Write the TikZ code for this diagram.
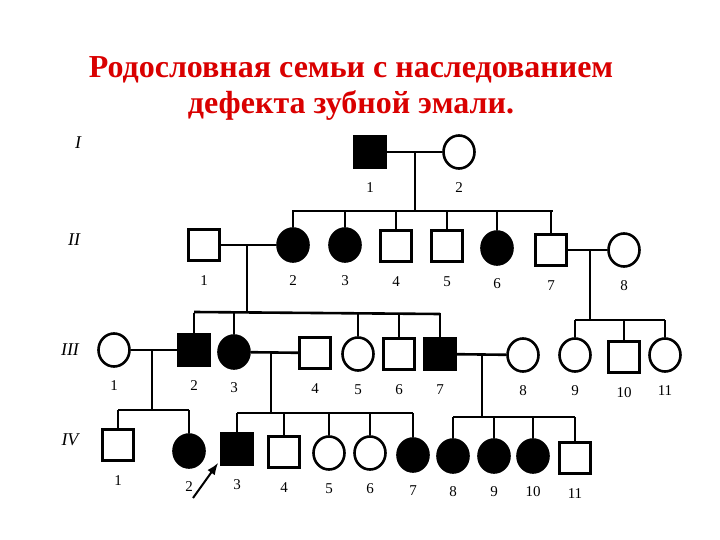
\documentclass[tikz,border=0pt]{standalone}
\usepackage{fontspec}
\setmainfont{Liberation Serif}
\usetikzlibrary{shapes.geometric,arrows.meta}
\begin{document}
\begin{tikzpicture}[x=1pt,y=-1pt,line width=2.6pt,
 sq/.style={draw,line width=2.6pt,rectangle,minimum size=31pt,inner sep=0pt,fill=white,label={[font=\fontsize{15}{15}\selectfont,label distance=9pt]below:#1}},
 sqa/.style={sq=#1,fill=black},
 ci/.style={draw,line width=2.6pt,ellipse,minimum width=31pt,minimum height=33pt,inner sep=0pt,fill=white,label={[font=\fontsize{15}{15}\selectfont,label distance=8pt]below:#1}},
 cia/.style={ci=#1,fill=black},
 gen/.style={font=\itshape\fontsize{18}{18}\selectfont},
 ln/.style={line width=2.6pt}]
\useasboundingbox (0,0) rectangle (720,540);
\node[font=\bfseries\fontsize{32}{36}\selectfont,text=red!85!black,align=center] (title) at (351,88) {Родословная семьи с наследованием\\дефекта зубной эмали.};
\node[gen] (g1) at (78,143) {I};
\node[gen] (g2) at (74,240) {II};
\node[gen] (g3) at (70,350) {III};
\node[gen] (g4) at (70,440) {IV};
% Gen I
\node[sqa=1] (I1) at (370,152) {};
\node[ci=2] (I2) at (459,152) {};
% Gen II
\node[sq=1] (II1) at (204,245) {};
\node[cia=2] (II2) at (293,245) {};
\node[cia=3] (II3) at (345,245) {};
\node[sq=4] (II4) at (396,246) {};
\node[sq=5] (II5) at (447,246) {};
\node[cia=6] (II6) at (497,248) {};
\node[sq=7] (II7) at (551,250) {};
\node[ci=8] (II8) at (624,250) {};
% Gen III
\node[ci=1] (III1) at (114,350) {};
\node[sqa=2] (III2) at (194,350) {};
\node[cia=3] (III3) at (234,352) {};
\node[sq=4] (III4) at (315,353) {};
\node[ci=5] (III5) at (358,354) {};
\node[sq=6] (III6) at (399,354) {};
\node[sqa=7] (III7) at (440,354) {};
\node[ci=8] (III8) at (523,355) {};
\node[ci=9] (III9) at (575,355) {};
\node[sq=10] (III10) at (624,357) {};
\node[ci=11] (III11) at (665,355) {};
% Gen IV
\node[sq=1] (IV1) at (118,445) {};
\node[cia=2] (IV2) at (189,451) {};
\node[sqa=3] (IV3) at (237,449) {};
\node[sq=4] (IV4) at (284,452) {};
\node[ci=5] (IV5) at (329,453) {};
\node[ci=6] (IV6) at (370,453) {};
\node[cia=7] (IV7) at (413,455) {};
\node[cia=8] (IV8) at (453,456) {};
\node[cia=9] (IV9) at (494,456) {};
\node[cia=10] (IV10) at (533,456) {};
\node[sq=11] (IV11) at (575,458) {};
% couples and descent
\coordinate (c1) at (415,152); \coordinate (s1) at (415,211);
\draw[ln] (I1) -- (I2);
\draw[ln] (c1) -- (s1);
\draw[ln] (292,211) -- (553,211);
\foreach \n/\x in {II2/293,II3/345,II4/396,II5/447,II6/497,II7/551} \draw[ln] (\x,211) -- (\n.north);
\coordinate (c2) at (247,245); \coordinate (s2) at (247,312);
\draw[ln] (II1) -- (II2); \draw[ln] (c2) -- (s2);
\draw[ln] (194,312) -- (440,314);
\foreach \n/\x in {III2/194,III3/234,III5/358,III6/399,III7/440} \draw[ln] (\x,313) -- (\n.north);
\coordinate (c3) at (590,250); \coordinate (s3) at (590,320);
\draw[ln] (II7) -- (II8); \draw[ln] (c3) -- (s3);
\draw[ln] (575,320) -- (665,320);
\foreach \n/\x in {III9/575,III10/624,III11/665} \draw[ln] (\x,320) -- (\n.north);
\coordinate (c4) at (152,349); \coordinate (s4) at (152,410);
\draw[ln] (III1) -- (III2); \draw[ln] (c4) -- (s4);
\draw[ln] (118,410) -- (189,410);
\foreach \n/\x in {IV1/118,IV2/189} \draw[ln] (\x,410) -- (\n.north);
\coordinate (c5) at (271,353); \coordinate (s5) at (271,413);
\draw[ln] (III3) -- (III4); \draw[ln] (c5) -- (s5);
\draw[ln] (237,413) -- (413,413);
\foreach \n/\x in {IV3/237,IV4/284,IV5/329,IV6/370,IV7/413} \draw[ln] (\x,413) -- (\n.north);
\coordinate (c6) at (482,354); \coordinate (s6) at (482,417);
\draw[ln] (III7) -- (III8); \draw[ln] (c6) -- (s6);
\draw[ln] (453,417) -- (575,417);
\foreach \n/\x in {IV8/453,IV9/494,IV10/533,IV11/575} \draw[ln] (\x,417) -- (\n.north);
% proband arrow
\coordinate (pa) at (193,498);
\draw[line width=2pt,-{Latex[length=12pt,width=9pt]}] (pa) -- ([xshift=-2pt,yshift=3pt]IV3.south west);
\end{tikzpicture}
\end{document}
